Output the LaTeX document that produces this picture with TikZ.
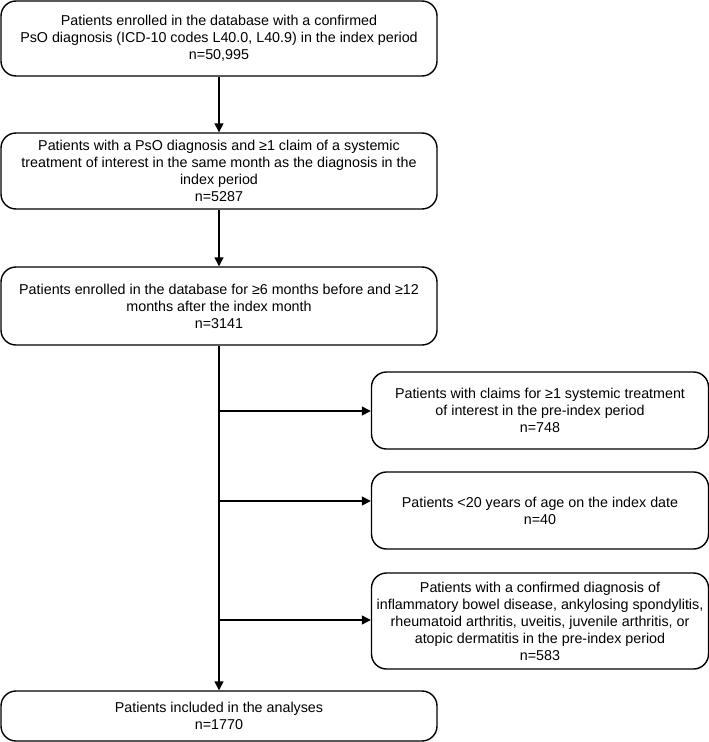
\documentclass[tikz,border=0pt]{standalone}
\usepackage{fontspec}
\setmainfont{Liberation Sans}
\usetikzlibrary{arrows.meta}
\begin{document}
\begin{tikzpicture}[x=1bp,y=-1bp,
  box/.style={draw=black, line width=1.4bp, rounded corners=15bp, align=center,
    font=\fontsize{14.3bp}{17bp}\selectfont, inner sep=0pt},
  lbox/.style={box, minimum width=436bp},
  rbox/.style={box, minimum width=337bp},
  arr/.style={line width=1.4bp, -{Triangle[width=9bp,length=9bp]}}]
\useasboundingbox (0,0) rectangle (709,742);
\node[lbox, minimum height=75bp] (b1) at (219,38.5) {Patients enrolled in the database with a confirmed\\PsO diagnosis (ICD-10 codes L40.0, L40.9) in the index period\\n=50,995};
\node[lbox, minimum height=76bp] (b2) at (219,171) {Patients with a PsO diagnosis and ≥1 claim of a systemic\\treatment of interest in the same month as the diagnosis in the\\index period\\n=5287};
\node[lbox, minimum height=78bp] (b3) at (219,306) {Patients enrolled in the database for ≥6 months before and ≥12\\months after the index month\\n=3141};
\node[rbox, minimum height=77bp] (b4) at (540,410.5) {Patients with claims for ≥1 systemic treatment\\of interest in the pre-index period\\n=748};
\node[rbox, minimum height=77bp] (b5) at (540,510.5) {Patients <20 years of age on the index date\\n=40};
\node[rbox, minimum height=96bp] (b6) at (540,621) {Patients with a confirmed diagnosis of\\inflammatory bowel disease, ankylosing spondylitis,\\rheumatoid arthritis, uveitis, juvenile arthritis, or\\atopic dermatitis in the pre-index period\\n=583};
\node[lbox, minimum height=50bp] (b7) at (219,716) {Patients included in the analyses\\n=1770};
\draw[arr] (b1) -- (b2);
\draw[arr] (b2) -- (b3);
\draw[arr] (b3) -- (b7);
\coordinate (j1) at (219,411);
\coordinate (j2) at (219,501);
\coordinate (j3) at (219,620);
\draw[arr] (j1) -- (j1 -| b4.west);
\draw[arr] (j2) -- (j2 -| b5.west);
\draw[arr] (j3) -- (j3 -| b6.west);
\end{tikzpicture}
\end{document}
